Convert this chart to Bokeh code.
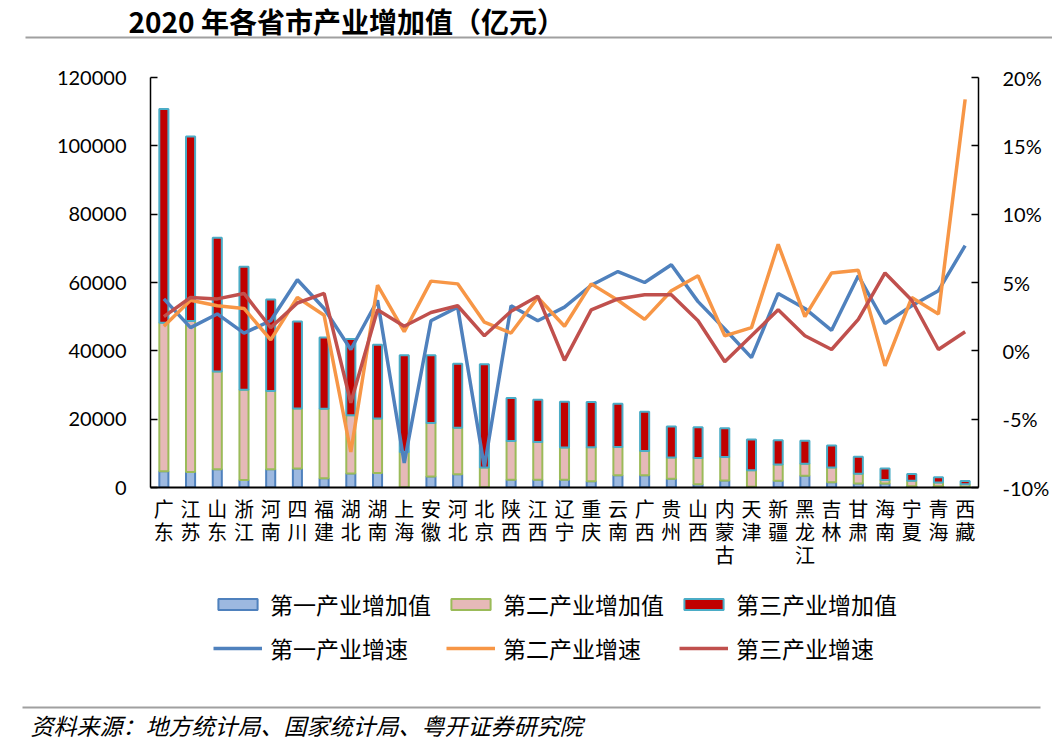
from bokeh.plotting import figure
from bokeh.models import (ColumnDataSource, Range1d, LinearAxis, FixedTicker, PrintfTickFormatter,
                          NumeralTickFormatter, Legend, LegendItem, Label, BoxAnnotation)
from bokeh.embed import file_html
from bokeh.resources import INLINE

provinces = ["广东", "江苏", "山东", "浙江", "河南", "四川", "福建", "湖北", "湖南", "上海", "安徽",
             "河北", "北京", "陕西", "江西", "辽宁", "重庆", "云南", "广西", "贵州", "山西", "内蒙古",
             "天津", "新疆", "黑龙江", "吉林", "甘肃", "海南", "宁夏", "青海", "西藏"]
primary = [4770, 4537, 5364, 2169, 5354, 5557, 2732, 4132, 4240, 104, 3185, 3880, 108, 2268, 2242,
           2285, 1803, 3599, 3556, 2540, 947, 2025, 210, 1981, 3438, 1553, 1198, 1136, 338, 334, 151]
secondary = [43450, 44226, 28612, 26413, 22875, 17571, 20329, 17024, 15938, 10290, 15672, 13597, 5716,
             11363, 11085, 9401, 9992, 8288, 7109, 6212, 7675, 6868, 4804, 4745, 3484, 4326, 2852,
             1055, 1609, 1144, 798]
tertiary = [62541, 53956, 39153, 36031, 26768, 25471, 20843, 22288, 21603, 28307, 19825, 18730, 30279,
            12552, 12365, 13429, 13207, 12636, 11492, 9075, 9030, 8467, 9070, 7072, 6777, 6432, 4967,
            3341, 1975, 1528, 954]
g1 = [3.8, 1.7, 2.7, 1.3, 2.2, 5.2, 3.1, 0.1, 3.7, -8.2, 2.2, 3.2, -8.5, 3.3, 2.2, 3.2, 4.8, 5.8,
      5.0, 6.3, 3.6, 1.6, -0.5, 4.2, 3.1, 1.5, 5.5, 2.0, 3.3, 4.4, 7.7]
g2 = [1.8, 3.7, 3.3, 3.1, 0.8, 3.9, 2.6, -7.4, 4.8, 1.4, 5.1, 4.9, 2.1, 1.3, 3.9, 1.8, 4.9, 3.7,
      2.3, 4.4, 5.5, 1.1, 1.7, 7.8, 2.5, 5.7, 5.9, -1.1, 3.9, 2.7, 18.4]
g3 = [2.5, 3.9, 3.8, 4.2, 1.7, 3.5, 4.2, -3.8, 3.0, 1.8, 2.8, 3.3, 1.1, 2.9, 4.0, -0.7, 3.0, 3.8,
      4.1, 4.1, 2.2, -0.8, 1.1, 3.0, 1.1, 0.1, 2.3, 5.7, 3.7, 0.1, 1.4]
left_ticks = [0, 20000, 40000, 60000, 80000, 100000, 120000]
right_ticks = [-10, -5, 0, 5, 10, 15, 20]
bar_names = ["第一产业增加值", "第二产业增加值", "第三产业增加值"]
line_names = ["第一产业增速", "第二产业增速", "第三产业增速"]
title_text = "2020 年各省市产业增加值（亿元）"
source_text = "资料来源：地方统计局、国家统计局、粤开证券研究院"

BAR_FILL = ["#9DB9E0", "#E6B9B8", "#C00000"]
BAR_LINE = ["#4F81BD", "#9BBB59", "#4BACC6"]
LINE_COL = ["#4F81BD", "#F79646", "#C0504D"]
LW = 3.5
CJK = "Noto Sans CJK SC"
NUM = "Lato"
W = 1052
NAN = float("nan")

# ---------------- title strip ----------------
TOP_H = 60
pt = figure(width=W, height=TOP_H, output_backend="svg", toolbar_location=None,
            x_range=Range1d(0, W), y_range=Range1d(0, TOP_H), x_axis_type=None, y_axis_type=None,
            min_border=0, outline_line_color=None)
pt.grid.visible = False
pt.add_layout(Label(x=128, y=TOP_H - 20, text=title_text, text_font=CJK, text_font_style="bold",
                    text_font_size="28px", text_color="black", text_baseline="middle", text_align="left"))
pt.add_layout(BoxAnnotation(left=25, right=W, bottom=TOP_H - 38, top=TOP_H - 36,
                            fill_color="#A0A0A0", fill_alpha=1, line_color=None))

# ---------------- main chart ----------------
xs = list(range(len(provinces)))
src = ColumnDataSource(dict(x=xs, p1=primary, p2=secondary, p3=tertiary, g1=g1, g2=g2, g3=g3))

p = figure(width=W, height=17 + 410 + 96, output_backend="svg", toolbar_location=None,
           x_range=Range1d(-0.5, len(provinces) - 0.5), y_range=Range1d(0, 120000),
           min_border_left=150, min_border_right=W - 980, min_border_top=17, min_border_bottom=96)
p.outline_line_color = None
p.grid.visible = False
p.extra_y_ranges = {"pct": Range1d(-10, 20)}

ya = p.yaxis[0]
ya.ticker = FixedTicker(ticks=left_ticks)
ya.formatter = NumeralTickFormatter(format="0")
ra = LinearAxis(y_range_name="pct", ticker=FixedTicker(ticks=right_ticks),
                formatter=PrintfTickFormatter(format="%d%%"))
p.add_layout(ra, "right")
for ax in (ya, ra):
    ax.major_tick_in = 7
    ax.major_tick_out = 0
    ax.minor_tick_line_color = None
    ax.axis_line_color = "black"
    ax.axis_line_width = 1.5
    ax.major_tick_line_color = "black"
    ax.major_tick_line_width = 1.5
    ax.major_label_text_font = NUM
    ax.major_label_text_font_size = "20px"
    ax.major_label_text_color = "black"
    ax.major_label_standoff = 24

xa = p.xaxis[0]
xa.ticker = FixedTicker(ticks=xs)
xa.major_label_overrides = {i: "\n".join(n) for i, n in enumerate(provinces)}
xa.major_tick_line_color = None
xa.minor_tick_line_color = None
xa.axis_line_color = "black"
xa.axis_line_width = 2
xa.major_label_text_font = CJK
xa.major_label_text_font_size = "20px"
xa.major_label_text_color = "black"
xa.major_label_text_line_height = 0.8
xa.major_label_standoff = 0

p.vbar_stack(["p1", "p2", "p3"], x="x", width=0.34, source=src,
             fill_color=BAR_FILL, line_color=BAR_LINE, line_width=2)
for col, c in zip(["g1", "g2", "g3"], LINE_COL):
    p.line("x", col, source=src, y_range_name="pct", line_color=c, line_width=LW)

# ---------------- legend + source strip ----------------
BOT_H = 160
pb = figure(width=W, height=BOT_H, output_backend="svg", toolbar_location=None,
            x_range=Range1d(0, W), y_range=Range1d(0, BOT_H), x_axis_type=None, y_axis_type=None,
            min_border=0, outline_line_color=None)
pb.grid.visible = False
# legend-only renderers (no visible data points)
bar_r = [pb.vbar(x=[NAN], top=[NAN], width=1, fill_color=f, line_color=l, line_width=2)
         for f, l in zip(BAR_FILL, BAR_LINE)]
line_r = [pb.line(x=[NAN, NAN], y=[NAN, NAN], line_color=c, line_width=LW) for c in LINE_COL]

def make_legend(names, rends, loc):
    return Legend(items=[LegendItem(label=n, renderers=[r]) for n, r in zip(names, rends)],
                  orientation="horizontal", location=loc,
                  label_text_font=CJK, label_text_font_size="23px", label_text_color="black",
                  glyph_width=49, glyph_height=14, label_standoff=8, label_width=166, label_height=36,
                  spacing=10, padding=0, margin=0, border_line_alpha=0, background_fill_alpha=0)

pb.add_layout(make_legend(bar_names, bar_r, (213, BOT_H - 39)))
pb.add_layout(make_legend(line_names, line_r, (213, BOT_H - 83)))
pb.add_layout(BoxAnnotation(left=22, right=1040, bottom=BOT_H - 125, top=BOT_H - 123,
                            fill_color="#A0A0A0", fill_alpha=1, line_color=None))
pb.add_layout(Label(x=30, y=BOT_H - 141, text=source_text, text_font=CJK, text_font_style="italic",
                    text_font_size="23px", text_color="black", text_baseline="middle", text_align="left"))

open("out.html", "w").write(file_html([pt, p, pb], INLINE))
